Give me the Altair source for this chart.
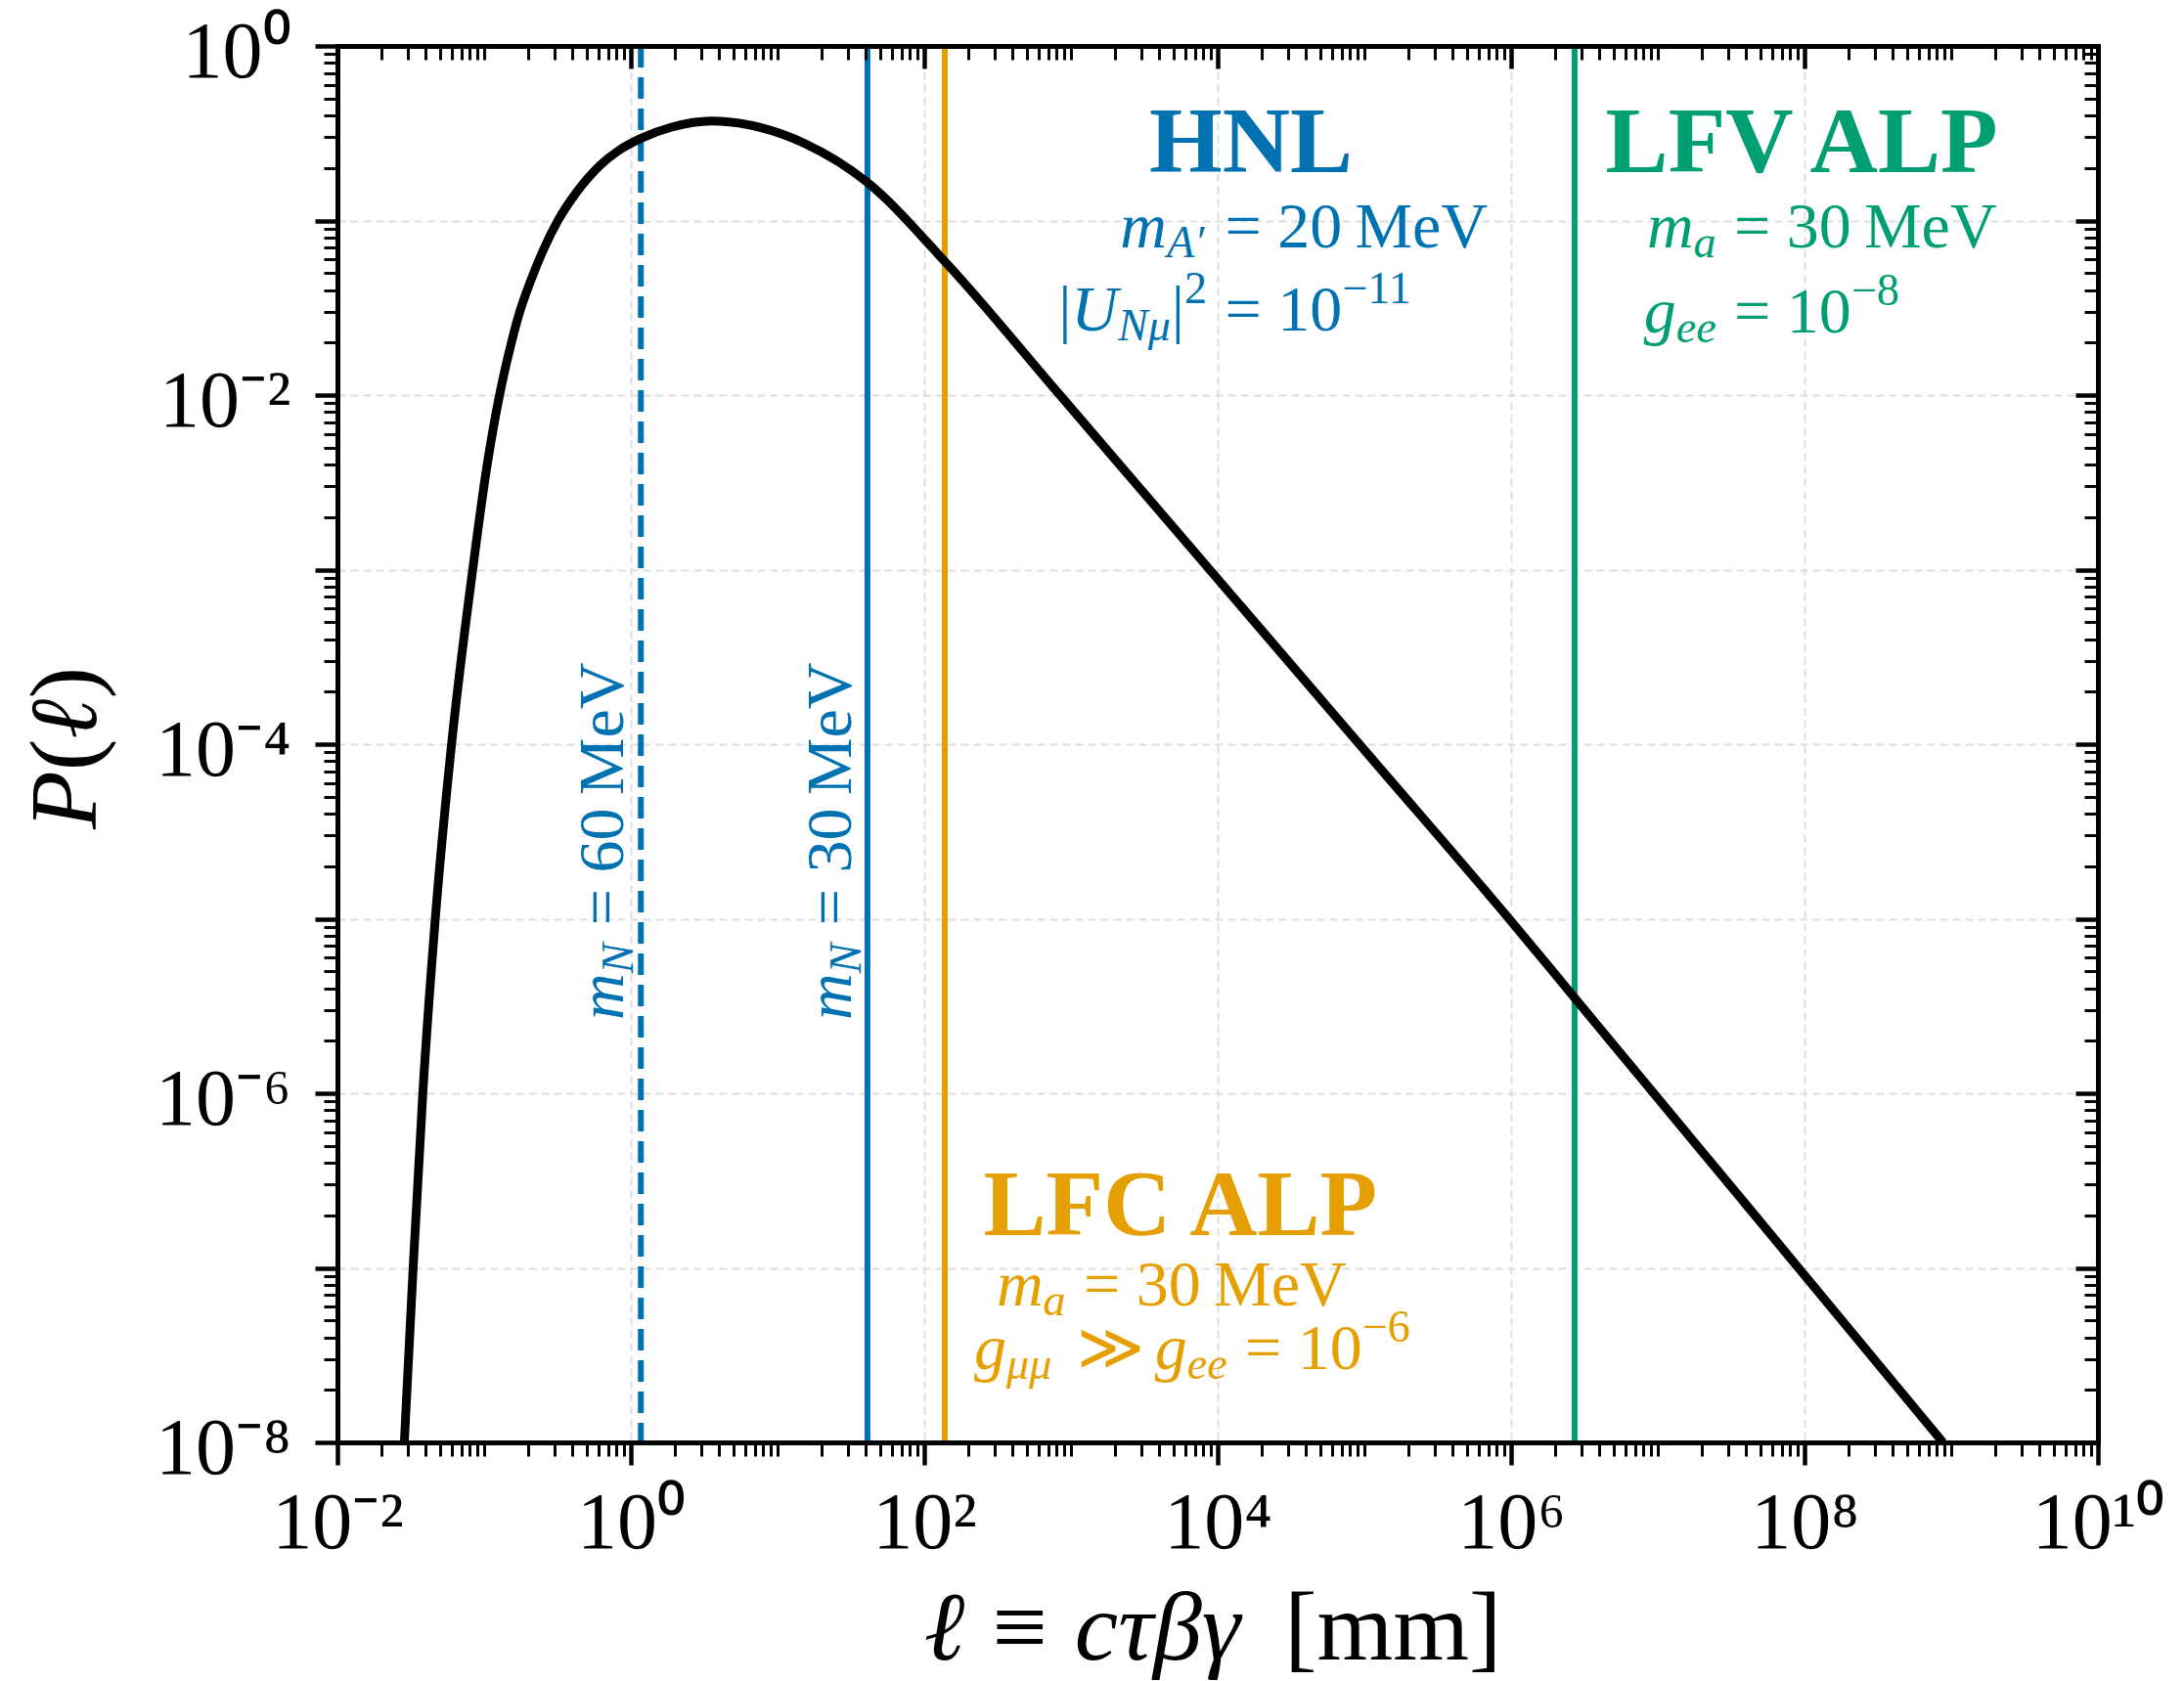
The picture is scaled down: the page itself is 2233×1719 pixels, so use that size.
import math
import altair as alt
import pandas as pd

FONT = "Liberation Serif"
BLUE = "#0072B2"
ORANGE = "#E69F00"
GREEN = "#009E73"

# ---------------- data ----------------
# decay-length distribution P(l), as log10 values
curve_log_l = [-1.544, -1.484, -1.418, -1.333, -1.222, -1.078, -0.985, -0.895, -0.833,
               -0.767, -0.678, -0.60, -0.50, -0.367, -0.211, -0.078, 0.067, 0.278, 0.55,
               0.883, 1.189, 1.61, 2.147, 2.925, 3.487, 3.983, 5.033, 5.999,
               6.427, 6.933, 8.01, 8.944]
curve_log_p = [-8.0, -7.0, -6.0, -5.0, -4.0, -3.0, -2.43, -2.0, -1.765,
               -1.55, -1.335, -1.175, -1.005, -0.835, -0.685, -0.596, -0.53, -0.465, -0.43,
               -0.467, -0.56, -0.78, -1.241, -2.0, -2.551, -3.037, -4.066, -5.013,
               -5.447, -5.96, -7.052, -8.0]

# vertical reference lines (decay length in mm)
line_l = [1.17, 41.0, 138.0, 2.71e6]
line_colors = [BLUE, BLUE, ORANGE, GREEN]
line_styles = ["dashed", "solid", "solid", "solid"]

# axis ticks and labels
x_major = [1e-2, 1e0, 1e2, 1e4, 1e6, 1e8, 1e10]
x_major_labels = ["10⁻²", "10⁰", "10²", "10⁴", "10⁶", "10⁸", "10¹⁰"]
y_major = [1e-8, 1e-7, 1e-6, 1e-5, 1e-4, 1e-3, 1e-2, 1e-1, 1e0]
y_major_labels = ["10⁻⁸", "", "10⁻⁶", "", "10⁻⁴", "", "10⁻²", "", "10⁰"]
x_minor = [m * 10.0 ** k for k in range(-2, 10) for m in range(2, 10)] + \
          [10.0 ** k for k in range(-1, 10, 2)]
y_minor = [m * 10.0 ** k for k in range(-8, 0) for m in range(2, 10)]
x_grid = x_major
y_grid = y_major

# ---------------- layout ----------------
W, H = 1800, 1428
X_DOM, Y_DOM = (1e-2, 1e10), (1e-8, 1e0)
PX_X = W / (math.log10(X_DOM[1]) - math.log10(X_DOM[0]))   # pixels per decade
PX_Y = H / (math.log10(Y_DOM[1]) - math.log10(Y_DOM[0]))
xs = alt.Scale(type="log", domain=list(X_DOM), nice=False)
ys = alt.Scale(type="log", domain=list(Y_DOM), nice=False)

ROMAN = {" ": 0.25, "\u2009": 0.2, "=": 0.564, "−": 0.564, "|": 0.2, "[": 0.333,
         "]": 0.333, "(": 0.333, ")": 0.333, "M": 0.889, "V": 0.722, "e": 0.444,
         "m": 0.778, "≡": 0.564, "≫": 0.85}
ITALIC = {"m": 0.722, "A": 0.611, "N": 0.667, "U": 0.722, "a": 0.5, "g": 0.5,
          "e": 0.444, "c": 0.444, "P": 0.611, "μ": 0.52, "τ": 0.44, "β": 0.5,
          "γ": 0.44, "ℓ": 0.42, "′": 0.28}
BOLD = {"H": 0.778, "N": 0.722, "L": 0.667, "F": 0.611, "V": 0.722, "A": 0.722,
        "P": 0.611, "C": 0.722, " ": 0.25}


def text_width(txt, st):
    table = {"r": ROMAN, "i": ITALIC, "b": BOLD}[st]
    return sum(table.get(ch, 0.5) for ch in txt)


def piece_rows(spec, fs, col, ax, ay, align="left", ang=0):
    """Lay out rich-text pieces starting from a data-space anchor."""
    items, pos, eq_pos = [], 0.0, None
    for s in spec:
        if s[0] == "gap":
            pos += s[1] * fs
            continue
        txt, st, role = s
        size = fs * 0.7 if role != "n" else fs
        shift = {"n": 0.0, "sub": 0.15 * fs, "sup": -0.42 * fs}[role]
        if txt.startswith("=") and eq_pos is None:
            eq_pos = pos
        items.append((txt, st, size, pos, shift))
        pos += text_width(txt, st) * size
    start = {"left": 0.0, "center": -pos / 2, "eq": -(eq_pos or 0.0)}[align]
    rows = []
    for txt, st, size, p, shift in items:
        along = start + p
        if ang == 0:
            ox, oy = along, shift
        else:
            ox, oy = shift, -along
        rows.append(dict(lx=10 ** (math.log10(ax) + ox / PX_X),
                         ly=10 ** (math.log10(ay) - oy / PX_Y),
                         txt=txt, fs=size, col=col, ang=ang, st=st))
    return rows


TH = ("gap", 0.278)
TW = ("gap", 0.36)
FS_T, FS_L = 96, 66

rows = []
# HNL block
rows += piece_rows([("HNL", "b", "n")], FS_T, BLUE, 10 ** 4.227, 10 ** -0.723, "center")
rows += piece_rows([("m", "i", "n"), ("A′", "i", "sub"), TH,
                    ("= 20\u2009MeV", "r", "n")],
                   FS_L, BLUE, 10 ** 4.05, 10 ** -1.154, "eq")
rows += piece_rows([("|", "r", "n"), ("U", "i", "n"), ("Nμ", "i", "sub"), ("|", "r", "n"),
                    ("2", "r", "sup"), TH, ("= 10", "r", "n"), ("−11", "r", "sup")],
                   FS_L, BLUE, 10 ** 4.05, 10 ** -1.63, "eq")
# LFV ALP block
rows += piece_rows([("LFV ALP", "b", "n")], FS_T, GREEN, 10 ** 8.004, 10 ** -0.723, "center")
rows += piece_rows([("m", "i", "n"), ("a", "i", "sub"), TH, ("= 30\u2009MeV", "r", "n")],
                   FS_L, GREEN, 10 ** 7.52, 10 ** -1.154, "eq")
rows += piece_rows([("g", "i", "n"), ("ee", "i", "sub"), TH, ("= 10", "r", "n"),
                    ("−8", "r", "sup")],
                   FS_L, GREEN, 10 ** 7.52, 10 ** -1.641, "eq")
# LFC ALP block
rows += piece_rows([("LFC ALP", "b", "n")], FS_T, ORANGE, 10 ** 2.403, 10 ** -6.812, "left")
rows += piece_rows([("m", "i", "n"), ("a", "i", "sub"), TH, ("= 30\u2009MeV", "r", "n")],
                   FS_L, ORANGE, 10 ** 2.493, 10 ** -7.216, "left")
rows += piece_rows([("g", "i", "n"), ("μμ", "i", "sub"), TW, ("≫", "r", "n"), TW,
                    ("g", "i", "n"), ("ee", "i", "sub"), TH, ("= 10", "r", "n"),
                    ("−6", "r", "sup")],
                   FS_L, ORANGE, 10 ** 2.34, 10 ** -7.58, "left")
# rotated HNL mass labels
for mass, lx in (("60", 10 ** -0.053), ("30", 10 ** 1.5)):
    rows += piece_rows([("m", "i", "n"), ("N", "i", "sub"), TH,
                        (f"= {mass}\u2009MeV", "r", "n")],
                       FS_L, BLUE, lx, 10 ** -5.58, "left", 270)
# axis titles
rows += piece_rows([("ℓ", "i", "n"), TH, ("≡", "r", "n"), TH, ("cτβγ", "i", "n"),
                    ("gap", 0.32), ("[mm]", "r", "n")],
                   100, "black", 10 ** 3.967, 10 ** -9.244, "center")
rows += piece_rows([("P", "i", "n"), ("(", "r", "n"), ("ℓ", "i", "n"), (")", "r", "n")],
                   98, "black", 10 ** -3.647, 10 ** -4.022, "center", 270)
txt_df = pd.DataFrame(rows)

curve_df = pd.DataFrame({"l": [10 ** v for v in curve_log_l],
                         "p": [10 ** v for v in curve_log_p]})
vdf = pd.DataFrame({"l": line_l, "col": line_colors, "style": line_styles})


def label_expr(vals, labels):
    parts = [f"datum.value < {v * 3:.6g} ? '{lab}'" for v, lab in zip(vals, labels)]
    return " : ".join(parts) + " : ''"


common = dict(domainColor="black", domainWidth=5, domainCap="square", tickColor="black",
              grid=False, title=None, zindex=1)

ax_x_major = alt.Axis(orient="bottom", values=x_major, tickSize=23, tickWidth=4.5,
                      labelExpr=label_expr(x_major, x_major_labels), labelFont=FONT,
                      labelFontSize=82, labelColor="black", labelBaseline="alphabetic",
                      labelPadding=84, labelFlush=False, labelOverlap=False,
                      labelBound=False, **common)
ax_y_major = alt.Axis(orient="left", values=y_major, tickSize=23, tickWidth=4.5,
                      labelExpr=label_expr(y_major, y_major_labels), labelFont=FONT,
                      labelFontSize=82, labelColor="black", labelBaseline="alphabetic",
                      labelAlign="right", labelPadding=25, labelOffset=31,
                      labelFlush=False, labelOverlap=False, labelBound=False, **common)
ax_x_minor = alt.Axis(orient="bottom", values=x_minor, tickSize=14, tickWidth=3,
                      labels=False, domain=False, **common)
ax_y_minor = alt.Axis(orient="left", values=y_minor, tickSize=14, tickWidth=3,
                      labels=False, domain=False, **common)
ax_top_major = alt.Axis(orient="bottom", offset=-H, values=x_major, tickSize=23,
                        tickWidth=4.5, labels=False, **common)
ax_right_major = alt.Axis(orient="left", offset=-W, values=y_major, tickSize=23,
                          tickWidth=4.5, labels=False, **common)
ax_top_minor = alt.Axis(orient="bottom", offset=-H, values=x_minor, tickSize=14,
                        tickWidth=3, labels=False, domain=False, **common)
ax_right_minor = alt.Axis(orient="left", offset=-W, values=y_minor, tickSize=14,
                          tickWidth=3, labels=False, domain=False, **common)
grid_common = dict(grid=True, gridColor="#dedede", gridDash=[8, 5], gridWidth=2,
                   ticks=False, labels=False, domain=False, title=None, zindex=0)
ax_x_grid = alt.Axis(orient="bottom", values=x_grid, **grid_common)
ax_y_grid = alt.Axis(orient="left", values=y_grid, **grid_common)


def carrier(xaxis, yaxis):
    return alt.Chart(curve_df).mark_point(opacity=0).encode(
        x=alt.X("l:Q", scale=xs, axis=xaxis),
        y=alt.Y("p:Q", scale=ys, axis=yaxis))


vsolid = alt.Chart(vdf).transform_filter(alt.datum.style == "solid").mark_rule(
    strokeWidth=6).encode(x=alt.X("l:Q", scale=xs, axis=None),
                          color=alt.Color("col:N", scale=None))
vdash = alt.Chart(vdf).transform_filter(alt.datum.style == "dashed").mark_rule(
    strokeWidth=6, strokeDash=[22, 10]).encode(x=alt.X("l:Q", scale=xs, axis=None),
                                               color=alt.Color("col:N", scale=None))
curve = alt.Chart(curve_df).mark_line(color="black", strokeWidth=9,
                                      interpolate="monotone", clip=True).encode(
    x=alt.X("l:Q", scale=xs, axis=None), y=alt.Y("p:Q", scale=ys, axis=None))


def text_layer(style):
    return alt.Chart(txt_df).transform_filter(alt.datum.st == style).mark_text(
        font=FONT, fontStyle="italic" if style == "i" else "normal",
        fontWeight="bold" if style == "b" else "normal",
        align="left", baseline="alphabetic").encode(
        x=alt.X("lx:Q", scale=xs, axis=None),
        y=alt.Y("ly:Q", scale=ys, axis=None),
        text="txt:N",
        size=alt.Size("fs:Q", scale=None),
        color=alt.Color("col:N", scale=None),
        angle=alt.Angle("ang:Q", scale=None))


chart = alt.layer(
    carrier(ax_x_grid, ax_y_grid),
    vdash, vsolid, curve,
    text_layer("r"), text_layer("i"), text_layer("b"),
    carrier(ax_x_major, ax_y_major),
    carrier(ax_x_minor, ax_y_minor),
    carrier(ax_top_major, ax_right_major),
    carrier(ax_top_minor, ax_right_minor),
).resolve_axis(x="independent", y="independent").properties(
    width=W, height=H,
    padding={"left": 345, "top": 47, "right": 88, "bottom": 244},
    autosize=alt.AutoSizeParams(type="none"),
    background="white",
).configure_view(stroke=None)

chart.save("out.html", embed_options={"renderer": "svg", "actions": False})
